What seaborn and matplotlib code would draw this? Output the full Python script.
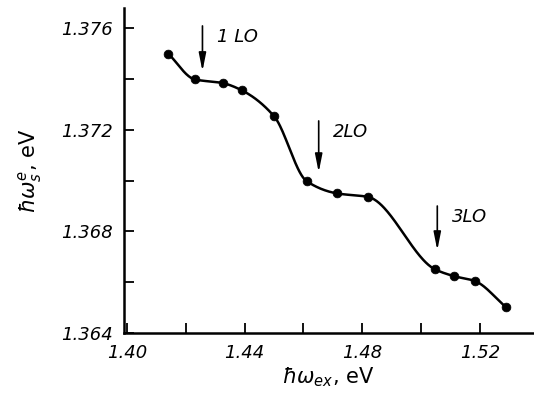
import numpy as np
import pandas as pd
import matplotlib
matplotlib.use("Agg")
import matplotlib.pyplot as plt
import seaborn as sns

# data
x_ex = [1.4141, 1.4230, 1.4326, 1.4390, 1.4500, 1.4611, 1.4713, 1.4819, 1.5047, 1.5112, 1.5182, 1.5289]
w_se = [1.37500, 1.37399, 1.37384, 1.37356, 1.37254, 1.36998, 1.36950, 1.36936, 1.36651, 1.36624, 1.36605, 1.36501]
arrow_x = [1.4257, 1.4652, 1.5055]
arrow_top = [1.3762, 1.37246, 1.36911]
arrow_bot = [1.3742, 1.37022, 1.36715]
arrow_labels = ["1 LO", "2LO", "3LO"]
xticks = [1.40, 1.42, 1.44, 1.46, 1.48, 1.50, 1.52]
xticklabels = ["1.40", "", "1.44", "", "1.48", "", "1.52"]
yticks = [1.364, 1.366, 1.368, 1.370, 1.372, 1.374, 1.376]
yticklabels = ["1.364", "", "1.368", "", "1.372", "", "1.376"]

df = pd.DataFrame({"x": x_ex, "y": w_se})

sns.set_theme(style="ticks")
plt.rcParams["font.family"] = ["DejaVu Sans"]
plt.rcParams["text.color"] = "black"
plt.rcParams["axes.labelcolor"] = "black"


def pchip(xk, yk, xs):
    xk = np.asarray(xk); yk = np.asarray(yk)
    h = np.diff(xk); d = np.diff(yk) / h
    m = np.zeros_like(yk)
    for i in range(1, len(xk) - 1):
        if d[i - 1] * d[i] > 0:
            w1 = 2 * h[i] + h[i - 1]; w2 = h[i] + 2 * h[i - 1]
            m[i] = (w1 + w2) / (w1 / d[i - 1] + w2 / d[i])
    m[0] = d[0]; m[-1] = d[-1]
    out = np.empty_like(xs)
    idx = np.clip(np.searchsorted(xk, xs) - 1, 0, len(xk) - 2)
    for j, (xv, i) in enumerate(zip(xs, idx)):
        t = (xv - xk[i]) / h[i]
        h00 = 2 * t**3 - 3 * t**2 + 1; h10 = t**3 - 2 * t**2 + t
        h01 = -2 * t**3 + 3 * t**2; h11 = t**3 - t**2
        out[j] = h00 * yk[i] + h10 * h[i] * m[i] + h01 * yk[i + 1] + h11 * h[i] * m[i + 1]
    return out


fig = plt.figure(figsize=(5.34, 3.96), dpi=100)
ax = fig.add_axes([0.232, 0.159, 0.766, 0.821])

xs = np.linspace(min(x_ex), max(x_ex), 400)
smooth = pd.DataFrame({"x": xs, "y": pchip(x_ex, w_se, xs)})
sns.lineplot(data=smooth, x="x", y="y", ax=ax, color="black", linewidth=1.8)
sns.scatterplot(data=df, x="x", y="y", ax=ax, color="black", s=40, edgecolor="black", zorder=3)

for xa, yt, yb, lab in zip(arrow_x, arrow_top, arrow_bot, arrow_labels):
    ax.annotate("", xy=(xa, yb), xytext=(xa, yt),
                arrowprops=dict(arrowstyle="-|>,head_length=0.9,head_width=0.18", color="black", lw=1.2))
    ax.text(xa + 0.005, yt - 0.00055, lab, fontsize=13, style="italic", ha="left", va="center", color="black")

ax.set_xlim(1.399, 1.538)
ax.set_ylim(1.364, 1.3768)
ax.set_xticks(xticks)
ax.set_xticklabels(xticklabels)
ax.set_yticks(yticks)
ax.set_yticklabels(yticklabels)
for lab in ax.get_xticklabels() + ax.get_yticklabels():
    lab.set_fontstyle("italic")
ax.tick_params(direction="in", length=7, width=1.3, labelsize=13, pad=8, colors="black")
sns.despine(ax=ax)
for s in ["left", "bottom"]:
    ax.spines[s].set_linewidth(1.8)
    ax.spines[s].set_color("black")

ax.set_xlabel(r"$\hbar\omega_{ex}$, eV", fontsize=15, labelpad=2)
ax.set_ylabel(r"$\hbar\omega_s^e$, eV", fontsize=15, labelpad=12)

fig.savefig("out.png", dpi=100)
